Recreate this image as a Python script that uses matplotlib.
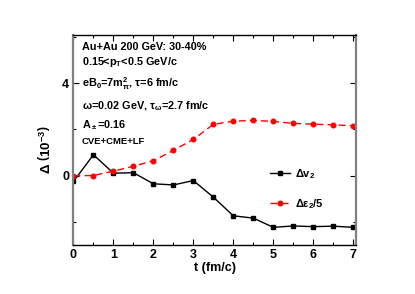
import matplotlib
matplotlib.use("Agg")
import matplotlib.pyplot as plt
from matplotlib.ticker import MultipleLocator

plt.rcParams['font.family'] = ['Liberation Sans', 'DejaVu Sans']
plt.rcParams['mathtext.fontset'] = 'custom'
plt.rcParams['mathtext.rm'] = 'Liberation Sans:bold'
plt.rcParams['mathtext.it'] = 'Liberation Sans:bold'
plt.rcParams['mathtext.bf'] = 'Liberation Sans:bold'

t = [0, 0.5, 1, 1.5, 2, 2.5, 3, 3.5, 4, 4.5, 5, 5.5, 6, 6.5, 7]
dv2 = [-0.26, 0.90, 0.10, 0.12, -0.36, -0.41, -0.22, -0.94, -1.75, -1.85, -2.25, -2.19, -2.22, -2.20, -2.25]
deps = [-0.01, 0.00, 0.19, 0.40, 0.64, 1.09, 1.57, 2.22, 2.36, 2.39, 2.35, 2.26, 2.23, 2.20, 2.16]
xticks = [0, 1, 2, 3, 4, 5, 6, 7]
yticks = [0, 4]

fig = plt.figure(figsize=(4.15, 2.94), dpi=100)
ax = fig.add_axes([0.177, 0.168, 0.680, 0.713])

ax.plot(t, dv2, color='black', lw=1.0, marker='s', ms=3.3, label=r'$\Delta$v$_2$')
ax.plot(t, deps, color='red', lw=1.0, ls=(0, (5, 3)), marker='o', ms=3.3,
        label=r'$\Delta\varepsilon_2$/5')

ax.set_xlim(0, 7.06)
ax.set_ylim(-3, 6.1)
ax.set_xticks(xticks)
ax.set_yticks(yticks)
ax.xaxis.set_minor_locator(MultipleLocator(0.5))
ax.yaxis.set_minor_locator(MultipleLocator(2))
ax.tick_params(which='both', direction='in', top=True, right=True)
ax.tick_params(which='major', length=4, width=0.8, labelsize=9, pad=3)
ax.tick_params(which='minor', length=2, width=0.8)
for lbl in ax.get_xticklabels() + ax.get_yticklabels():
    lbl.set_fontweight('bold')

for s in ['left', 'right']:
    ax.spines[s].set_color('#808080')
    ax.spines[s].set_linewidth(1.6)
for s in ['top', 'bottom']:
    ax.spines[s].set_color('black')
    ax.spines[s].set_linewidth(1.0)

ax.set_xlabel('t (fm/c)', fontsize=9, fontweight='bold', labelpad=1)
fig.text(45 / 415, 1 - 150 / 294, r'$\Delta\ \left(10^{-3}\right)$', fontsize=9.5,
         rotation=90, ha='center', va='center')

kw = dict(transform=ax.transAxes, fontsize=7.8, fontweight='bold', va='center', ha='left')
def ty(py):
    return (244.7 - py) / (244.7 - 35)
def tx(px):
    return (px - 73.5) / (355.7 - 73.5)
ax.text(tx(82), ty(47), 'Au+Au 200 GeV: 30-40%', **kw)
ax.text(tx(82), ty(62), r'0.15<p$_\mathrm{T}$<0.5 GeV/c', **kw)
ax.text(tx(82), ty(84), r'eB$_0$=7m$_\pi^2$, $\tau$=6 fm/c', **kw)
ax.text(tx(82), ty(106), r'$\omega$=0.02 GeV, $\tau_\omega$=2.7 fm/c', **kw)
ax.text(tx(82), ty(125), r'A$_\pm$=0.16', **kw)
ax.text(tx(82), ty(142), 'CVE+CME+LF', transform=ax.transAxes, fontsize=6.8,
        fontweight='bold', va='center', ha='left')

leg = ax.legend(loc='center left', bbox_to_anchor=(0.66, 0.266), frameon=False,
                handlelength=1.8, labelspacing=1.5, handletextpad=0.5,
                borderpad=0.4, prop={'weight': 'bold', 'size': 8})

fig.savefig('out.png', dpi=100)
